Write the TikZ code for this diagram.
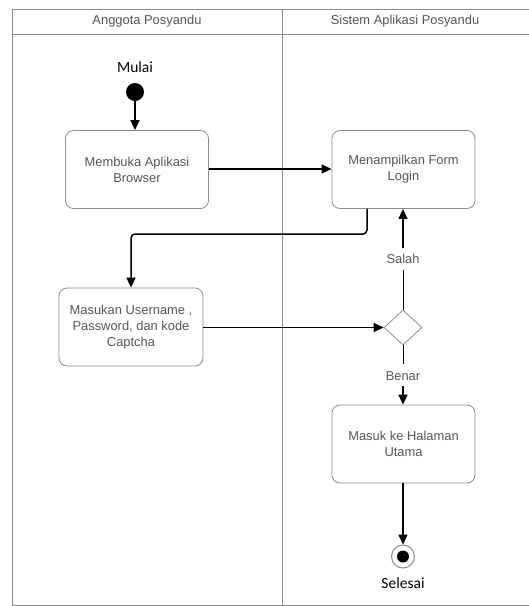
\documentclass[tikz,border=0pt]{standalone}
\usepackage{fontspec}
\setmainfont{Liberation Sans}
\newfontfamily\calib{Carlito}
\usetikzlibrary{arrows.meta,shapes.geometric}
\definecolor{frameC}{HTML}{8C8C8C}
\definecolor{txtC}{HTML}{555555}
\tikzset{
  act/.style={draw=frameC, line width=0.8pt, rounded corners=8pt, minimum width=143pt, minimum height=78pt, align=center, text=txtC, font=\fontsize{12.9}{16}\selectfont, inner sep=0pt},
  flow/.style={line width=1.5pt, -{Triangle[length=10pt,width=9pt]}},
  lbl/.style={text=txtC, font=\fontsize{12.9}{16}\selectfont},
  blk/.style={text=black, font=\calib\fontsize{15.5}{18}\selectfont},
}
\begin{document}
\begin{tikzpicture}[x=1pt,y=-1pt]
\useasboundingbox (0,0) rectangle (529,606);
% swimlane frame
\draw[frameC, line width=0.9pt] (530,9) -- (12,9) -- (12,605) -- (530,605);
\draw[frameC, line width=0.8pt] (12,34) -- (530,34);
\draw[frameC, line width=0.8pt] (282,9) -- (282,605);
\node[lbl] (h1) at (147,21.5) {Anggota Posyandu};
\node[lbl] (h2) at (405,21.5) {Sistem Aplikasi Posyandu};
% start
\node[blk] (mulai) at (135,67) {Mulai};
\node[circle, fill=black, minimum size=18pt, inner sep=0pt] (start) at (135,92) {};
% activities
\node[act] (b1) at (137,169.5) {Membuka Aplikasi\\Browser};
\node[act] (b2) at (403.5,169.5) {Menampilkan Form\\Login};
\node[act, minimum width=144pt] (b3) at (131,327) {Masukan Username ,\\Password, dan kode\\Captcha};
\node[diamond, draw=frameC, line width=0.8pt, minimum width=38pt, minimum height=35pt, inner sep=0pt] (d) at (403,327.5) {};
\node[act] (b4) at (403.5,444) {Masuk ke Halaman\\Utama};
% end
\node[circle, draw=frameC, line width=1pt, minimum size=23pt, inner sep=0pt] (end) at (403,556.5) {};
\node[circle, fill=black, minimum size=12pt, inner sep=0pt] (endin) at (403,556.5) {};
\node[blk] (selesai) at (403,583) {Selesai};
% flows
\draw[flow] (start) -- (b1.north -| start);
\draw[flow] (b1.east |- 0,169) -- (b2.west |- 0,169);
\draw[flow, rounded corners=4pt] (b2.south -| 367,0) -- (367,234) -- (131,234) -- (b3.north);
\draw[flow] (b3.east |- d) -- (d.west);
\draw[line width=1pt] (d.north) -- (403,270);
\node[lbl] (salah) at (403,259) {Salah};
\draw[flow] (403,248) -- (b2.south -| d);
\draw[line width=1pt] (d.south) -- (403,364);
\node[lbl] (benar) at (403,376) {Benar};
\draw[flow] (403,386) -- (b4.north -| d);
\draw[flow] (b4.south -| d) -- (end.north);
\end{tikzpicture}
\end{document}
